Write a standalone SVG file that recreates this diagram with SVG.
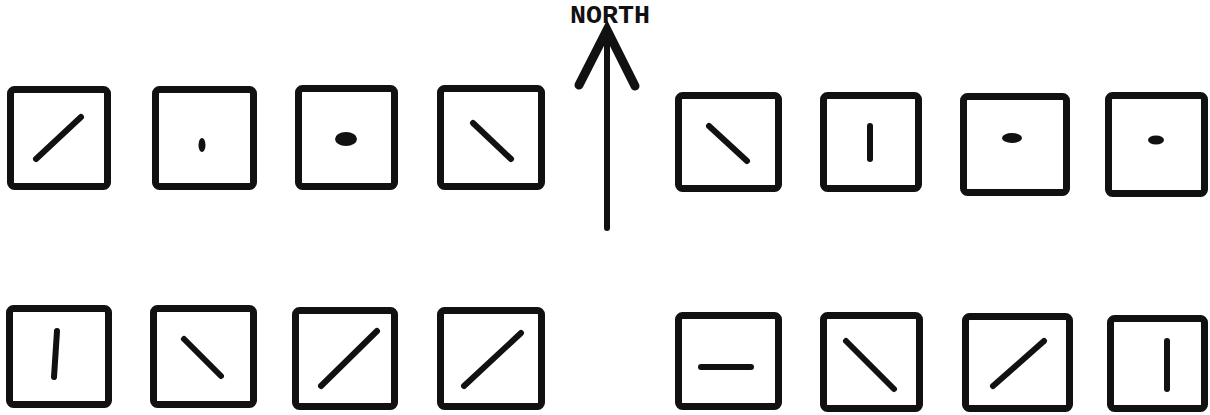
<svg xmlns="http://www.w3.org/2000/svg" width="1210" height="415" viewBox="0 0 1210 415">
<style>
.box{fill:#fff;stroke:#111;stroke-width:7;stroke-linejoin:round}
.bar{stroke:#111;stroke-width:6;stroke-linecap:round;fill:none}
.blob{fill:#111}
.lbl{font-family:"Liberation Mono","DejaVu Sans Mono",monospace;font-weight:bold;font-size:26px;fill:#111}
</style>
<rect width="1210" height="415" fill="#fff"/>
<g id="n1"><rect class="box" x="10.5" y="89.5" width="97" height="97" rx="4"/><line class="bar" x1="36" y1="159" x2="81" y2="117"/></g>
<g id="n2"><rect class="box" x="155.5" y="89.5" width="98" height="97" rx="4"/><ellipse class="blob" cx="202" cy="145" rx="3.5" ry="7"/></g>
<g id="n3"><rect class="box" x="298.5" y="88.5" width="96" height="98" rx="4"/><ellipse class="blob" cx="346" cy="139" rx="11" ry="7"/></g>
<g id="n4"><rect class="box" x="440.5" y="88.5" width="101" height="98" rx="4"/><line class="bar" x1="473" y1="123" x2="511" y2="159"/></g>
<g id="n5"><rect class="box" x="678.5" y="95.5" width="100" height="93" rx="4"/><line class="bar" x1="709" y1="126" x2="747" y2="161"/></g>
<g id="n6"><rect class="box" x="823.5" y="95.5" width="95" height="93" rx="4"/><line class="bar" x1="870" y1="126" x2="870" y2="159"/></g>
<g id="n7"><rect class="box" x="963.5" y="96.5" width="103" height="96" rx="4"/><ellipse class="blob" cx="1012" cy="138" rx="10" ry="5"/></g>
<g id="n8"><rect class="box" x="1108.5" y="95.5" width="96" height="98" rx="4"/><ellipse class="blob" cx="1156" cy="140" rx="8" ry="4.5"/></g>
<g id="n9"><rect class="box" x="9.5" y="308.5" width="99" height="96" rx="4"/><line class="bar" x1="57" y1="331" x2="54" y2="377"/></g>
<g id="n10"><rect class="box" x="153.5" y="308.5" width="100" height="96" rx="4"/><line class="bar" x1="184" y1="339" x2="221" y2="376"/></g>
<g id="n11"><rect class="box" x="295.5" y="310.5" width="99" height="96" rx="4"/><line class="bar" x1="321" y1="386" x2="377" y2="331"/></g>
<g id="n12"><rect class="box" x="440.5" y="310.5" width="101" height="96" rx="4"/><line class="bar" x1="464" y1="386" x2="521" y2="333"/></g>
<g id="n13"><rect class="box" x="678.5" y="315.5" width="100" height="91" rx="4"/><line class="bar" x1="701" y1="367" x2="751" y2="367"/></g>
<g id="n14"><rect class="box" x="823.5" y="315.5" width="96" height="93" rx="4"/><line class="bar" x1="846" y1="341" x2="894" y2="389"/></g>
<g id="n15"><rect class="box" x="965.5" y="316.5" width="104" height="92" rx="4"/><line class="bar" x1="993" y1="386" x2="1044" y2="341"/></g>
<g id="n16"><rect class="box" x="1110.5" y="318.5" width="94" height="90" rx="4"/><line class="bar" x1="1167" y1="341" x2="1167" y2="389"/></g>
<g id="north">
<text class="lbl" x="610" y="23" text-anchor="middle" textLength="80" lengthAdjust="spacingAndGlyphs">NORTH</text>
<g id="connectors">
<line x1="607" y1="29" x2="607" y2="228" stroke="#111" stroke-width="6"/>
<circle cx="607" cy="228" r="3" fill="#111"/>
<polyline points="579,85 607,30 635,86" fill="none" stroke="#111" stroke-width="9" stroke-linecap="round" stroke-linejoin="miter"/>
</g>
</g>
</svg>
